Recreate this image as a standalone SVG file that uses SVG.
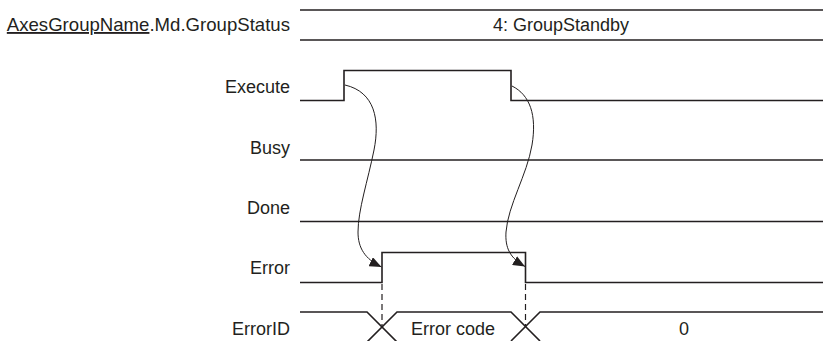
<svg xmlns="http://www.w3.org/2000/svg" width="823" height="341" viewBox="0 0 823 341">
<style>
  .lbl { font-family: "Liberation Sans", Arial, sans-serif; font-size: 18px; fill: #231f20; }
  .big { font-size: 18.6px; }
  .mid { text-anchor: middle; }
  .end { text-anchor: end; }
  .sig { fill: none; stroke: #231f20; stroke-width: 1.6; }
  .dash { fill: none; stroke: #231f20; stroke-width: 1.2; stroke-dasharray: 6 4; }
  .curve { fill: none; stroke: #231f20; stroke-width: 1; }
</style>
<defs>
  <marker id="ah" viewBox="0 0 12 10" refX="12" refY="5" markerWidth="12" markerHeight="10" markerUnits="userSpaceOnUse" orient="auto">
    <path d="M0,0 L12,5 L0,10 Z" fill="#231f20"/>
  </marker>
</defs>
<rect width="823" height="341" fill="#ffffff"/>

<g id="groupstatus">
  <text class="lbl big end" x="290" y="31"><tspan text-decoration="underline">AxesGroupName</tspan>.Md.GroupStatus</text>
  <line class="sig" x1="300" y1="10" x2="823" y2="10"/>
  <line class="sig" x1="300" y1="40" x2="823" y2="40"/>
  <text class="lbl mid" x="561" y="31">4: GroupStandby</text>
</g>

<g id="execute">
  <text class="lbl end" x="290" y="93">Execute</text>
  <path class="sig" d="M300,100.5 H344 V70.5 H511 V100.5 H823"/>
</g>

<g id="busy">
  <text class="lbl end" x="290" y="154">Busy</text>
  <line class="sig" x1="300" y1="160" x2="823" y2="160"/>
</g>

<g id="done">
  <text class="lbl end" x="290" y="214">Done</text>
  <line class="sig" x1="300" y1="221.5" x2="823" y2="221.5"/>
</g>

<g id="error">
  <text class="lbl end" x="290" y="274">Error</text>
  <path class="sig" d="M300,282.5 H382 V252.5 H525.5 V282.5 H823"/>
</g>

<g id="errorid">
  <text class="lbl end" x="290" y="335">ErrorID</text>
  <path class="sig" d="M300,312 H367 L397,342"/>
  <path class="sig" d="M367,342 L397,312 H511 L540,341"/>
  <path class="sig" d="M511,341 L540,312 H823"/>
  <text class="lbl mid" x="453" y="335">Error code</text>
  <text class="lbl mid" x="684" y="335">0</text>
</g>

<g id="connectors">
  <path class="curve" d="M345,85 C375,92 380,120 374,150 C368,180 358,210 358,232 C358,248 365,259 381.5,267" marker-end="url(#ah)"/>
  <path class="curve" d="M512,86 C530,95 537,115 532,145 C527,175 508,205 506,232 C505,248 510,258 525,266.5" marker-end="url(#ah)"/>
  <line class="dash" x1="382" y1="284" x2="382" y2="326"/>
  <line class="dash" x1="525.5" y1="284" x2="525.5" y2="326"/>
</g>
</svg>
